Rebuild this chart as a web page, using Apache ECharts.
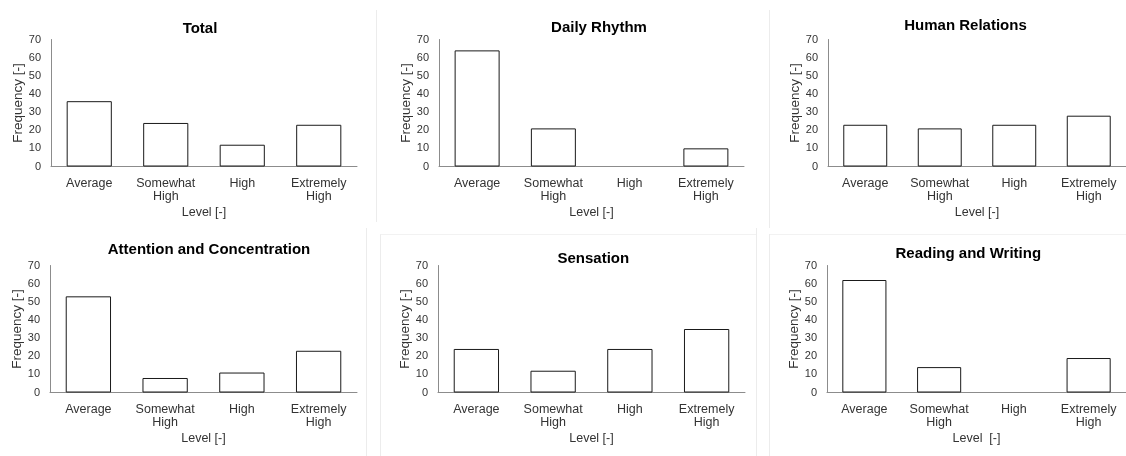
<!DOCTYPE html>
<html>
<head>
<meta charset="utf-8">
<style>
  html, body { margin: 0; padding: 0; background: #ffffff; }
  #chart { width: 1126px; height: 456px; }
</style>
<script src="https://cdn.jsdelivr.net/npm/echarts@6/dist/echarts.min.js"></script>
</head>
<body>
<div id="chart"></div>
<script>
// ---- data ----
const categories = ['Average', 'Somewhat\nHigh', 'High', 'Extremely\nHigh'];
const panelTitles = ['Total', 'Daily Rhythm', 'Human Relations',
                     'Attention and Concentration', 'Sensation', 'Reading and Writing'];
const xAxisNames = ['Level [-]', 'Level [-]', 'Level [-]', 'Level [-]', 'Level [-]', 'Level  [-]'];
const yAxisName = 'Frequency [-]';
const totalValues = [36, 24, 12, 23];
const dailyRhythmValues = [64, 21, 0, 10];
const humanRelationsValues = [23, 21, 23, 28];
const attentionValues = [53, 8, 11, 23];
const sensationValues = [24, 12, 24, 35];
const readingWritingValues = [62, 14, 0, 19];
const yMin = 0, yMax = 70, yStep = 10;

const panelValues = [totalValues, dailyRhythmValues, humanRelationsValues,
                     attentionValues, sensationValues, readingWritingValues];

// ---- layout ----
const grids = [
  { left: 51,  top: 39.5,  width: 306, height: 127 },
  { left: 439, top: 39.5,  width: 305, height: 127 },
  { left: 828, top: 39.5,  width: 306, height: 127 },
  { left: 50,  top: 265.5, width: 307, height: 127 },
  { left: 438, top: 265.5, width: 307, height: 127 },
  { left: 827, top: 265.5, width: 306, height: 127 }
];
const titlePos = [
  { x: 200, y: 30.5 }, { x: 599, y: 29.5 }, { x: 965.5, y: 27.5 },
  { x: 209, y: 251.3 }, { x: 593.3, y: 260.3 }, { x: 968.3, y: 255.5 }
];

const FONT = 'Liberation Sans, Arial, sans-serif';
const textColor = '#333333';
const axisColor = '#8c8c8c';

const option = {
  backgroundColor: '#ffffff',
  animation: false,
  title: panelTitles.map((t, i) => ({
    text: t,
    left: titlePos[i].x,
    top: titlePos[i].y - 9,
    textAlign: 'center',
    padding: 0,
    textStyle: { fontFamily: FONT, fontSize: 15, fontWeight: 'bold', color: '#000000' }
  })),
  grid: grids.map(g => Object.assign({ containLabel: false }, g)),
  xAxis: grids.map((g, i) => ({
    type: 'category',
    gridIndex: i,
    data: categories,
    name: xAxisNames[i],
    nameLocation: 'middle',
    nameGap: 40,
    nameTextStyle: { fontFamily: FONT, fontSize: 12.5, color: textColor },
    axisLine: { lineStyle: { color: axisColor, width: 1 } },
    axisTick: { show: false },
    axisLabel: { fontFamily: FONT, fontSize: 12.5, color: textColor, margin: 11, lineHeight: 13, interval: 0 },
    splitLine: { show: false }
  })),
  yAxis: grids.map((g, i) => ({
    type: 'value',
    gridIndex: i,
    min: yMin, max: yMax, interval: yStep,
    name: yAxisName,
    nameLocation: 'middle',
    nameGap: 25,
    nameTextStyle: { fontFamily: FONT, fontSize: 13.5, color: textColor },
    axisLine: { show: true, lineStyle: { color: axisColor, width: 1 } },
    axisTick: { show: false },
    axisLabel: { fontFamily: FONT, fontSize: 11, color: textColor, margin: 10 },
    splitLine: { show: false }
  })),
  series: panelValues.map((vals, i) => ({
    type: 'bar',
    name: panelTitles[i],
    xAxisIndex: i,
    yAxisIndex: i,
    barWidth: '59%',
    data: vals.map(v => v === 0
      ? { value: v, itemStyle: { borderWidth: 0 } }
      : v),
    itemStyle: { color: '#ffffff', borderColor: '#1a1a1a', borderWidth: 1 }
  })),
  graphic: [
    // faint panel frame lines
    { type: 'line', silent: true, shape: { x1: 376.5, y1: 10, x2: 376.5, y2: 222 }, style: { stroke: '#ececec', lineWidth: 1 } },
    { type: 'line', silent: true, shape: { x1: 769.5, y1: 10, x2: 769.5, y2: 228 }, style: { stroke: '#ececec', lineWidth: 1 } },
    { type: 'line', silent: true, shape: { x1: 366.5, y1: 228, x2: 366.5, y2: 456 }, style: { stroke: '#ececec', lineWidth: 1 } },
    { type: 'line', silent: true, shape: { x1: 380.5, y1: 234, x2: 380.5, y2: 456 }, style: { stroke: '#ececec', lineWidth: 1 } },
    { type: 'line', silent: true, shape: { x1: 756.5, y1: 228, x2: 756.5, y2: 456 }, style: { stroke: '#ececec', lineWidth: 1 } },
    { type: 'line', silent: true, shape: { x1: 769.5, y1: 234, x2: 769.5, y2: 456 }, style: { stroke: '#ececec', lineWidth: 1 } },
    { type: 'line', silent: true, shape: { x1: 380.5, y1: 234.5, x2: 756, y2: 234.5 }, style: { stroke: '#f2f2f2', lineWidth: 1 } },
    { type: 'line', silent: true, shape: { x1: 770, y1: 234.5, x2: 1126, y2: 234.5 }, style: { stroke: '#f2f2f2', lineWidth: 1 } }
  ]
};

const chart = echarts.init(document.getElementById('chart'), null, { renderer: 'canvas' });
chart.setOption(option);
</script>
</body>
</html>
